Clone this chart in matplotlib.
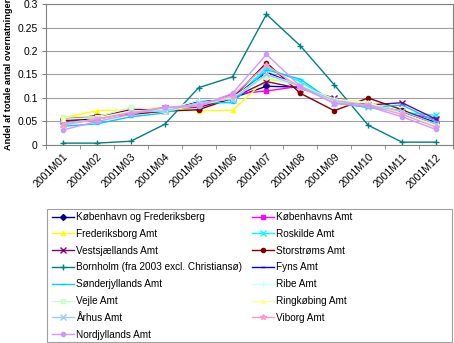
import numpy as np
import matplotlib
matplotlib.use("Agg")
import matplotlib.pyplot as plt
from matplotlib.patches import Rectangle

plt.rcParams['font.family'] = ['Liberation Sans', 'DejaVu Sans']

months = ["2001M01", "2001M02", "2001M03", "2001M04", "2001M05", "2001M06",
          "2001M07", "2001M08", "2001M09", "2001M10", "2001M11", "2001M12"]

names = ["København og Frederiksberg", "Københavns Amt", "Frederiksborg Amt",
         "Roskilde Amt", "Vestsjællands Amt", "Storstrøms Amt",
         "Bornholm (fra 2003 excl. Christiansø)", "Fyns Amt",
         "Sønderjyllands Amt", "Ribe Amt", "Vejle Amt", "Ringkøbing Amt",
         "Århus Amt", "Viborg Amt", "Nordjyllands Amt"]

kbh_frb = [0.052, 0.055, 0.072, 0.075, 0.092, 0.100, 0.125, 0.123, 0.095, 0.085, 0.072, 0.048]
kbh_amt = [0.055, 0.062, 0.070, 0.078, 0.085, 0.108, 0.115, 0.125, 0.095, 0.090, 0.070, 0.055]
frederiksborg = [0.058, 0.073, 0.075, 0.080, 0.073, 0.074, 0.140, 0.130, 0.095, 0.090, 0.070, 0.045]
roskilde = [0.045, 0.055, 0.068, 0.072, 0.090, 0.095, 0.165, 0.135, 0.090, 0.080, 0.070, 0.063]
vestsj = [0.050, 0.060, 0.075, 0.078, 0.080, 0.100, 0.135, 0.120, 0.100, 0.085, 0.090, 0.055]
storstrom = [0.055, 0.062, 0.065, 0.072, 0.075, 0.100, 0.175, 0.110, 0.073, 0.100, 0.075, 0.045]
bornholm = [0.004, 0.004, 0.008, 0.044, 0.122, 0.145, 0.278, 0.211, 0.128, 0.042, 0.006, 0.006]
fyn = [0.045, 0.055, 0.070, 0.075, 0.085, 0.100, 0.155, 0.125, 0.095, 0.085, 0.070, 0.045]
sonderjyl = [0.040, 0.045, 0.060, 0.068, 0.090, 0.090, 0.160, 0.140, 0.090, 0.080, 0.085, 0.050]
ribe = [0.045, 0.055, 0.072, 0.075, 0.095, 0.100, 0.150, 0.128, 0.095, 0.090, 0.065, 0.040]
vejle = [0.060, 0.060, 0.080, 0.075, 0.088, 0.100, 0.145, 0.125, 0.092, 0.090, 0.068, 0.042]
ringkobing = [0.055, 0.058, 0.072, 0.072, 0.085, 0.100, 0.150, 0.125, 0.098, 0.090, 0.065, 0.040]
aarhus = [0.045, 0.055, 0.070, 0.072, 0.090, 0.098, 0.150, 0.125, 0.095, 0.085, 0.072, 0.045]
viborg = [0.042, 0.055, 0.068, 0.080, 0.085, 0.105, 0.170, 0.122, 0.090, 0.085, 0.065, 0.038]
nordjyl = [0.032, 0.050, 0.065, 0.080, 0.082, 0.110, 0.193, 0.125, 0.088, 0.082, 0.060, 0.033]

series = [kbh_frb, kbh_amt, frederiksborg, roskilde, vestsj, storstrom, bornholm,
          fyn, sonderjyl, ribe, vejle, ringkobing, aarhus, viborg, nordjyl]
colors = ["#000080", "#FF00FF", "#FFFF00", "#00FFFF", "#800080", "#800000",
          "#008080", "#0000FF", "#00CCFF", "#CCFFFF", "#CCFFCC", "#FFFF99",
          "#99CCFF", "#FF99CC", "#CC99FF"]
markers = ["D", "s", "^", "x", "x", "o", "+", "_", "_", "+", "s", "^", "x", "*", "o"]

fig = plt.figure(figsize=(4.54, 3.43), dpi=100)
ax = fig.add_axes([46/454, 198/343, 407/454, 141/343])

x = np.arange(len(months))
handles = []
for s, n, c, m in zip(series, names, colors, markers):
    ms = 3.0 if m not in ("x", "+", "*") else 4.0
    h, = ax.plot(x, s, color=c, marker=m, markersize=ms, linewidth=1.0,
                 markeredgewidth=1.0, label=n)
    handles.append(h)

ax.set_xlim(-0.5, len(months) - 0.5)
ax.set_ylim(0, 0.3)
ax.set_yticks(np.arange(0, 0.31, 0.05))
ax.set_yticklabels(["0", "0.05", "0.1", "0.15", "0.2", "0.25", "0.3"], fontsize=7.5)
ax.set_xticks(x)
ax.set_xticklabels(months, rotation=45, ha="right", rotation_mode="anchor", fontsize=7.5)
ax.set_xticks(np.arange(-0.5, len(months), 1), minor=True)
ax.tick_params(axis="x", which="major", length=0, pad=5)
ax.tick_params(axis="x", which="minor", length=3, color="#808080")
ax.tick_params(axis="y", length=3, color="#808080", pad=3)
ax.yaxis.grid(True, color="#A0A0A0", linewidth=0.8)
ax.set_axisbelow(True)
for side in ["top", "right", "left", "bottom"]:
    ax.spines[side].set_color("#808080")
ax.set_ylabel("Andel af totale antal overnatninger", fontsize=6.6, fontweight="bold", labelpad=3)

# legend frame drawn separately so it spans the full width
fig.patches.append(Rectangle((47/454, 1/343), 405/454, 133/343, transform=fig.transFigure,
                             facecolor="white", edgecolor="#A0A0A0", linewidth=0.8))

order = list(range(0, 15, 2)) + list(range(1, 15, 2))
leg = fig.legend([handles[i] for i in order], [names[i] for i in order],
                 loc="upper left", bbox_to_anchor=(49/454, 1 - 209/343),
                 bbox_transform=fig.transFigure,
                 ncol=2, fontsize=7.2, frameon=False,
                 handlelength=2.2, handletextpad=0.2, labelspacing=0.68,
                 borderaxespad=0, borderpad=0.3, columnspacing=1.0)

fig.savefig("out.png", dpi=100)
